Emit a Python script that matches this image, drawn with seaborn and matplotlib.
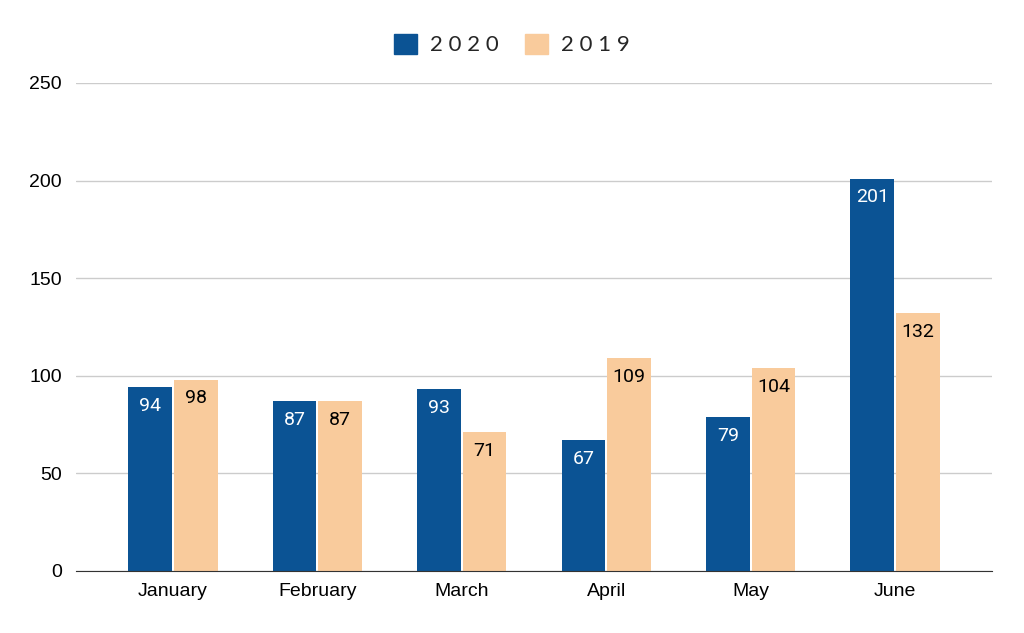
import pandas as pd
import matplotlib.pyplot as plt
import seaborn as sns

months = ["January", "February", "March", "April", "May", "June"]
values_2020 = [94, 87, 93, 67, 79, 201]
values_2019 = [98, 87, 71, 109, 104, 132]
years = ["2020", "2019"]
colors = {"2020": "#0b5394", "2019": "#f9cb9c"}

df = pd.DataFrame({
    "month": months * 2,
    "value": values_2020 + values_2019,
    "year": ["2020"] * len(months) + ["2019"] * len(months),
})

sns.set_style("white")
plt.rcParams['font.family'] = ['Liberation Sans', 'DejaVu Sans']

fig = plt.figure(figsize=(10.24, 6.33), dpi=100)
ax = fig.add_axes([0.074, 0.098, 0.895, 0.771])

sns.barplot(data=df, x="month", y="value", hue="year", hue_order=years,
            palette=colors, width=0.63, gap=0.04, ax=ax, legend=False,
            saturation=1, edgecolor="none")

# value labels just inside the top of each bar
for cont, yr in zip(ax.containers, years):
    ax.bar_label(cont, padding=-20, fontsize=14, family="Roboto",
                 color="white" if yr == "2020" else "black")

ax.set_ylim(0, 250)
ax.set_yticks([0, 50, 100, 150, 200, 250])
ax.set_xlim(-0.673, 5.673)
ax.set_xlabel("")
ax.set_ylabel("")
ax.yaxis.grid(True, color="#cccccc", linewidth=1)
ax.set_axisbelow(True)
for s in ["top", "right", "left"]:
    ax.spines[s].set_visible(False)
ax.spines["bottom"].set_color("#333333")
ax.tick_params(axis="both", length=0, labelsize=14, colors="black")
ax.tick_params(axis="y", pad=10)
ax.tick_params(axis="x", pad=9)

handles = [plt.Rectangle((0, 0), 1, 1, color=colors[y]) for y in years]
fig.legend(handles, ["2 0 2 0", "2 0 1 9"], loc="upper center",
           bbox_to_anchor=(0.5, 0.978), ncol=2, frameon=False,
           handlelength=1.0, handleheight=1.0,
           columnspacing=1.2, handletextpad=0.6,
           prop={"family": "Lato", "size": 16})

fig.savefig("out.png", dpi=100, facecolor="white")
